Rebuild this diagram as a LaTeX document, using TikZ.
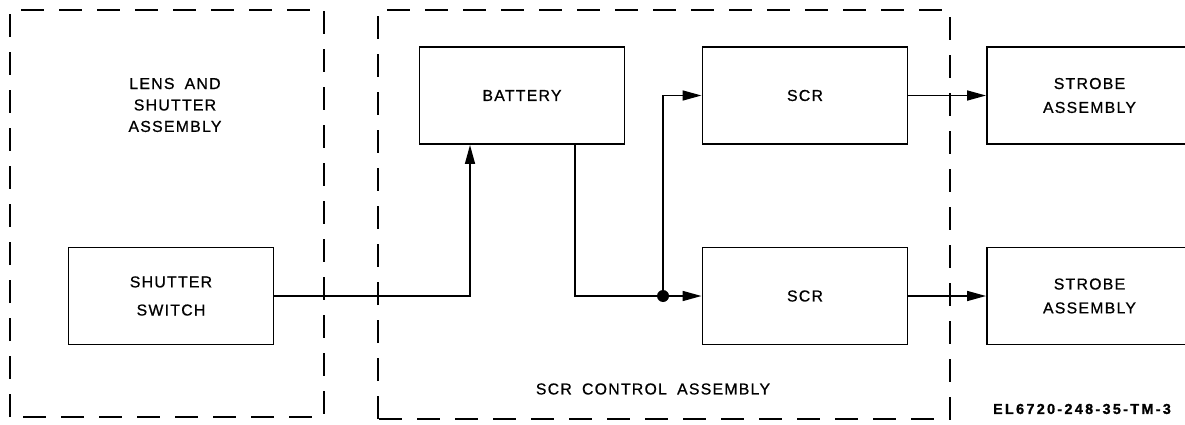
\documentclass[tikz,border=0pt]{standalone}
\usepackage{fontspec}
\usetikzlibrary{arrows.meta}
\newfontfamily\lettrage[LetterSpace=8, WordSpace=1.8, FakeBold=0.8]{Liberation Sans}
\newfontfamily\reflettrage[LetterSpace=16, FakeBold=1]{Liberation Sans Bold}

\begin{document}
\begin{tikzpicture}[
  bloc/.style={draw, line width=1.1pt, minimum width=4.1cm, minimum height=1.94cm,
    inner sep=0pt, align=center, font=\lettrage\fontsize{9}{13.6}\selectfont},
  cadre/.style={line width=1.2pt, dash pattern=on 0.46cm off 0.3cm},
  fleche/.style={line width=0.9pt, -{Triangle[length=3.8mm,width=2mm]}},
  liaison/.style={line width=0.9pt}]
\useasboundingbox (0,0) rectangle (23.7,8.48);
\clip (0,0) rectangle (23.7,8.48);

% Cadres en tirets
\draw[cadre] (0.2,0.14) rectangle (6.48,8.28);
\draw[cadre] (7.56,0.10) rectangle (19.0,8.28);

% Blocs
\node[bloc] (shutter) at (3.42,2.56) {SHUTTER\\[2.4pt]SWITCH};
\node[bloc] (battery) at (10.44,6.57) {BATTERY};
\node[bloc] (scrA) at (16.1,6.57) {SCR};
\node[bloc] (scrB) at (16.1,2.56) {SCR};
\node[bloc] (strobeA) at (21.79,6.57) {STROBE\\ASSEMBLY};
\node[bloc] (strobeB) at (21.79,2.56) {STROBE\\ASSEMBLY};

% Textes des cadres
\node[align=center, font=\lettrage\fontsize{9}{12.2}\selectfont] (lens) at (3.5,6.38)
  {LENS AND\\SHUTTER\\ASSEMBLY};
\node[font=\lettrage\fontsize{9}{10}\selectfont] (control) at (13.06,0.70)
  {SCR CONTROL ASSEMBLY};
\node[anchor=west, inner sep=1pt, font=\reflettrage\fontsize{8.2}{10}\selectfont] (ref) at (19.82,0.30)
  {EL6720-248-35-TM-3};

% Liaisons
\coordinate (noeud) at (13.26,2.56);
\draw[fleche] (shutter.east) -| ([xshift=-1.04cm]battery.south);
\draw[liaison] ([xshift=1.06cm]battery.south) |- (noeud);
\draw[fleche] (noeud) -- (scrB.west);
\draw[fleche] (noeud) |- (scrA.west);
\fill (noeud) circle (0.12);
\draw[fleche] (scrA.east) -- (strobeA.west);
\draw[fleche] (scrB.east) -- (strobeB.west);
\end{tikzpicture}
\end{document}
